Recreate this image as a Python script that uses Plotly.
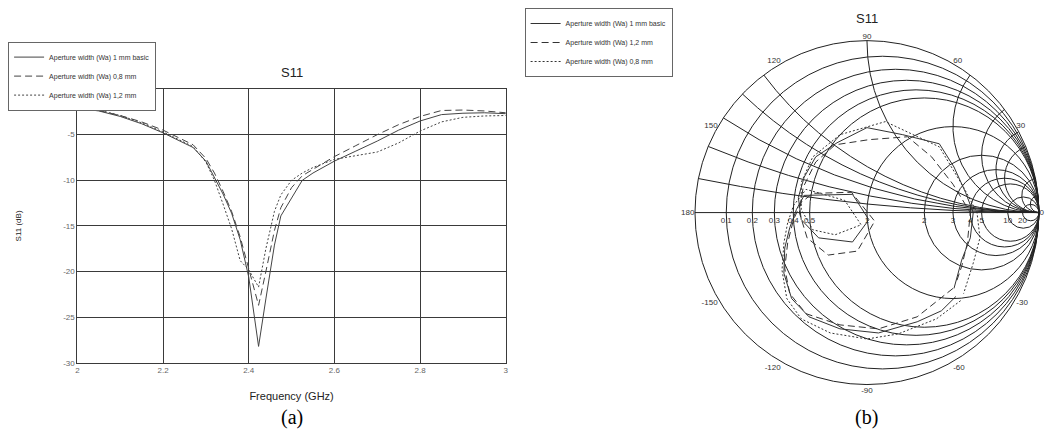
import numpy as np
import plotly.graph_objects as go

# ---------------- data: (a) S11 magnitude vs frequency ----------------
freq_ghz = [2.0, 2.05, 2.1, 2.15, 2.2, 2.25, 2.27, 2.3, 2.32, 2.34, 2.36, 2.38, 2.40, 2.423,
            2.44, 2.46, 2.475, 2.5, 2.525, 2.55, 2.6, 2.65, 2.7, 2.75, 2.8, 2.85, 2.9, 2.95, 3.0]
s11_db_basic = [-2.1, -2.4, -3.0, -3.8, -4.8, -5.9, -6.4, -7.9, -9.7, -11.5, -13.6, -16.5, -20.6, -28.2,
                -23.0, -17.1, -13.9, -11.9, -10.0, -9.2, -7.9, -6.8, -5.7, -4.5, -3.5, -2.8, -2.65, -2.6, -2.7]
s11_db_08 = [-2.05, -2.35, -2.9, -3.6, -4.5, -5.6, -6.1, -7.6, -9.2, -11.2, -13.4, -16.2, -19.8, -23.7,
             -20.0, -15.5, -13.0, -10.8, -9.5, -8.8, -7.4, -6.2, -5.0, -3.9, -3.0, -2.35, -2.3, -2.4, -2.6]
s11_db_12 = [-2.0, -2.3, -2.9, -3.7, -4.7, -5.8, -6.3, -8.0, -10.0, -12.6, -15.3, -18.8, -19.8, -21.7,
             -17.5, -13.4, -11.6, -10.0, -9.2, -8.6, -7.7, -7.3, -6.9, -5.9, -4.6, -3.6, -3.1, -2.95, -2.9]

x_tickvals = [2.0, 2.2, 2.4, 2.6, 2.8, 3.0]
x_ticktext = ["2", "2.2", "2.4", "2.6", "2.8", "3"]
y_tickvals = [-30, -25, -20, -15, -10, -5]
y_ticktext = ["-30", "-25", "-20", "-15", "-10", "-5"]

# ---------------- data: (b) complex S11 (reflection coefficient) ----------------
g_re_basic = [0.517, 0.433, 0.292, 0.067, -0.157, -0.337, -0.438, -0.483, -0.478, -0.449, -0.410, -0.365,
              -0.084, 0.011, -0.084, -0.281, -0.382, -0.399, -0.365, -0.298, -0.174, 0.0, 0.208, 0.421,
              0.506, 0.573, 0.618, 0.601, 0.551, 0.506]
g_im_basic = [-0.488, -0.571, -0.635, -0.700, -0.676, -0.606, -0.500, -0.353, -0.206, -0.088, 0.018, 0.100,
              0.106, -0.041, -0.171, -0.147, -0.041, 0.088, 0.206, 0.324, 0.406, 0.494, 0.453, 0.400,
              0.265, 0.118, 0.0, -0.147, -0.276, -0.441]
g_re_12 = [0.500, 0.292, 0.067, -0.157, -0.354, -0.449, -0.478, -0.461, -0.427, -0.382, -0.315, -0.090,
           0.045, -0.056, -0.225, -0.348, -0.393, -0.371, -0.298, -0.185, 0.011, 0.236, 0.376, 0.500,
           0.601, 0.584, 0.551, 0.517]
g_im_12 = [-0.441, -0.606, -0.676, -0.653, -0.588, -0.471, -0.324, -0.176, -0.041, 0.059, 0.112, 0.118,
           -0.050, -0.224, -0.247, -0.147, 0.0, 0.147, 0.294, 0.394, 0.424, 0.441, 0.324, 0.165,
           0.0, -0.176, -0.312, -0.412]
g_re_08 = [0.545, 0.404, 0.180, 0.0, -0.213, -0.382, -0.466, -0.494, -0.483, -0.461, -0.427, -0.354,
           -0.129, -0.034, -0.185, -0.315, -0.382, -0.382, -0.315, -0.157, 0.107, 0.421, 0.562, 0.640,
           0.657, 0.618, 0.562]
g_im_08 = [-0.512, -0.618, -0.706, -0.735, -0.700, -0.618, -0.500, -0.335, -0.176, -0.059, 0.041, 0.135,
           0.071, -0.071, -0.129, -0.100, 0.018, 0.176, 0.324, 0.453, 0.529, 0.382, 0.147, 0.0,
           -0.147, -0.294, -0.471]

smith_ticks = [0.1, 0.2, 0.3, 0.4, 0.5, 1, 2, 3, 4, 5, 10, 20]
angle_vals = [0, 30, 60, 90, 120, 150, 180, 210, 240, 270, 300, 330]
angle_text = ["0", "30", "60", "90", "120", "150", "180", "-150", "-120", "-90", "-60", "-30"]

names_a = ["Aperture width (Wa) 1 mm basic", "Aperture width (Wa) 0,8 mm", "Aperture width (Wa) 1,2 mm"]
names_b = ["Aperture width (Wa) 1 mm basic", "Aperture width (Wa) 1,2 mm", "Aperture width (Wa) 0,8 mm"]

# ---------------- figure geometry ----------------
PAGE_OFF = 8                  # default body margin of the html page
FW, FH = 1054 - PAGE_OFF, 437 - PAGE_OFF


def PX(px):
    return (px - PAGE_OFF) / FW


def PY(py):
    return 1 - (py - PAGE_OFF) / FH


FONT = "Liberation Sans Narrow, Liberation Sans, DejaVu Sans"
LC = "#3a3a3a"

fig = go.Figure()

dashes = ["solid", "7px,4px", "2px,2px"]
for name, vals, dash in zip(names_a, [s11_db_basic, s11_db_08, s11_db_12], dashes):
    fig.add_trace(go.Scatter(x=freq_ghz, y=vals, mode="lines", name=name,
                             line=dict(color="#444444", width=1, dash=dash),
                             legend="legend"))


def to_z(re, im):
    g = np.array(re) + 1j * np.array(im)
    z = (1 + g) / (1 - g)
    return z.real, z.imag


for name, (re, im), dash in zip(names_b, [(g_re_basic, g_im_basic), (g_re_12, g_im_12), (g_re_08, g_im_08)], dashes):
    zr, zi = to_z(re, im)
    fig.add_trace(go.Scattersmith(real=zr, imag=zi, mode="lines", name=name,
                                  line=dict(color="#333333", width=1, dash=dash),
                                  subplot="smith", legend="legend2"))

# empty trace only to instantiate the angle scale around the Smith chart
fig.add_trace(go.Scatterpolar(r=[], theta=[], subplot="polar", showlegend=False, hoverinfo="skip"))

# smith geometry (square domain centred on the chart)
cx, cy, R = 868, 215, 174
sx = [PX(cx - R), PX(cx + R)]
sy = [PY(cy + R), PY(cy - R)]

ann_common = dict(xref="paper", yref="paper", showarrow=False, xanchor="center", yanchor="middle")

fig.update_layout(
    width=FW, height=FH,
    margin=dict(l=0, r=0, t=0, b=0),
    paper_bgcolor="white", plot_bgcolor="white",
    font=dict(family=FONT, size=8, color="#444"),
    xaxis=dict(domain=[PX(70), PX(503)], range=[2, 3], tickvals=x_tickvals, ticktext=x_ticktext,
               showgrid=True, gridcolor=LC, gridwidth=1, showline=True, linecolor=LC, linewidth=1,
               mirror=True, zeroline=False, ticks="", tickfont=dict(size=8, color="#666"),
               title=dict(text="Frequency (GHz)", font=dict(size=11, color="#222"), standoff=17)),
    yaxis=dict(domain=[PY(367), PY(90)], range=[-30, 0], tickvals=y_tickvals, ticktext=y_ticktext,
               showgrid=True, gridcolor=LC, gridwidth=1, showline=True, linecolor=LC, linewidth=1,
               mirror=True, zeroline=False, ticks="", tickfont=dict(size=8, color="#666"),
               title=dict(text="S11 (dB)", font=dict(size=8, color="#222"), standoff=40)),
    smith=dict(
        domain=dict(x=sx, y=sy),
        bgcolor="rgba(0,0,0,0)",
        realaxis=dict(tickvals=smith_ticks, tickangle=0, side="bottom", gridcolor="#222",
                      linecolor="#222", tickfont=dict(size=8, color="#333"), ticks=""),
        imaginaryaxis=dict(tickvals=smith_ticks, gridcolor="#222", linecolor="#222",
                           showticklabels=False, ticks=""),
    ),
    polar=dict(
        domain=dict(x=sx, y=sy),
        bgcolor="rgba(0,0,0,0)",
        radialaxis=dict(visible=False),
        angularaxis=dict(tickvals=angle_vals, ticktext=angle_text, showgrid=False,
                         showline=False, ticks="", tickfont=dict(size=8, color="#333")),
    ),
    legend=dict(x=PX(0), y=PY(42), xanchor="left", yanchor="top",
                bordercolor="#666", borderwidth=1, bgcolor="white",
                font=dict(size=7, color="#333"), itemwidth=30, tracegroupgap=0),
    legend2=dict(x=PX(522), y=1.0, xanchor="left", yanchor="top",
                 bordercolor="#666", borderwidth=1, bgcolor="white",
                 font=dict(size=7, color="#333"), itemwidth=30, tracegroupgap=0),
    showlegend=True,
    annotations=[
        dict(text="S11", x=PX(287), y=PY(73), font=dict(size=13, color="#222"), **ann_common),
        dict(text="S11", x=PX(868), y=PY(19), font=dict(size=13, color="#222"), **ann_common),
        dict(text="(a)", x=PX(287), y=PY(422),
             font=dict(size=20, color="black", family="Liberation Serif, Times New Roman, serif"), **ann_common),
        dict(text="(b)", x=PX(868), y=PY(422),
             font=dict(size=20, color="black", family="Liberation Serif, Times New Roman, serif"), **ann_common),
    ],
)

fig.write_html("out.html")
